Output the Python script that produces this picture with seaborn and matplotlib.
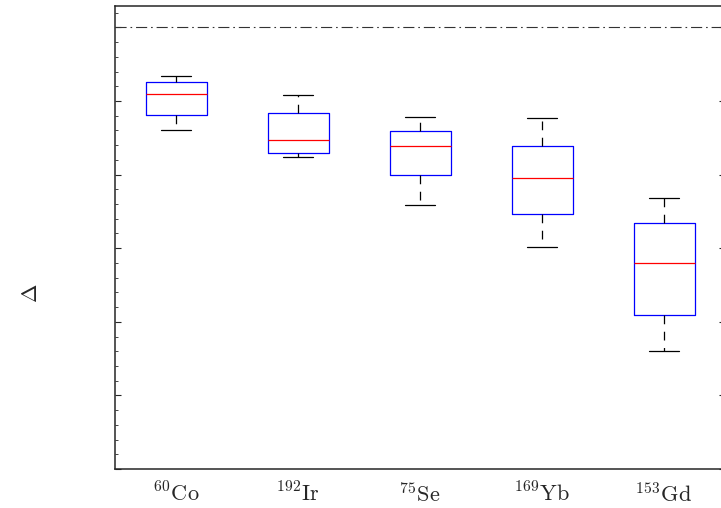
import pandas as pd
import matplotlib
matplotlib.use('Agg')
import matplotlib.pyplot as plt
import seaborn as sns
from matplotlib.ticker import MultipleLocator, NullFormatter

#Box statistics (min, q1, median, q3, max)
sources = ['Co', 'Ir', 'Se', 'Yb', 'Gd']
mass_numbers = ['60', '192', '75', '169', '153']
whisker_low = [0.9305, 0.9118, 0.8794, 0.8505, 0.7802]
q1 = [0.9405, 0.9147, 0.8996, 0.8731, 0.8048]
median = [0.9545, 0.9233, 0.9193, 0.8978, 0.8401]
q3 = [0.9630, 0.9421, 0.9298, 0.9193, 0.8674]
whisker_high = [0.9670, 0.9543, 0.9393, 0.9383, 0.8844]
reference_level = 1.0

tick_labels = [r'$^{%s}\mathrm{%s}$' % (m, s) for m, s in zip(mass_numbers, sources)]

#five points per source -> quartiles land exactly on the read values
rows = []
for lab, a, b, c, d, e in zip(tick_labels, whisker_low, q1, median, q3, whisker_high):
    for v in (a, b, c, d, e):
        rows.append({'source': lab, 'delta': v})
df = pd.DataFrame(rows)

sns.set_style('ticks')
plt.rcParams['mathtext.fontset'] = 'cm'
plt.rcParams['font.family'] = ['DejaVu Serif']

fig = plt.figure(figsize=(7.21, 5.08), dpi=100)
ax = fig.add_axes([115 / 721, 39 / 508, 610 / 721, 463 / 508])

sns.boxplot(data=df, x='source', y='delta', order=tick_labels, ax=ax,
            whis=(0, 100), width=0.5, fill=False, linewidth=0.9,
            boxprops={'color': 'blue'},
            medianprops={'color': 'red'},
            whiskerprops={'color': 'black', 'linestyle': (0, (7, 6))},
            capprops={'color': 'black'},
            showfliers=False)

ax.axhline(reference_level, color='#333333', linestyle=(0, (10, 3.5, 1.5, 3.5)), linewidth=0.8)

ax.set_xlim(-0.5, 4.5)
ax.set_ylim(0.70, 1.0145)
ax.yaxis.set_major_locator(MultipleLocator(0.05))
ax.yaxis.set_minor_locator(MultipleLocator(0.01))
ax.yaxis.set_major_formatter(NullFormatter())
ax.tick_params(axis='y', which='both', direction='in', left=True, right=True)
ax.tick_params(axis='y', which='major', length=4, width=0.8)
ax.tick_params(axis='y', which='minor', length=2, width=0.6)
ax.tick_params(axis='x', length=0, labelsize=16, pad=10)

for side in ['left', 'right', 'top', 'bottom']:
    ax.spines[side].set_linewidth(1.1)
    ax.spines[side].set_visible(True)

ax.set_xlabel('')
ax.set_ylabel(r'$\Delta$', fontsize=16)
ax.yaxis.set_label_coords(-0.12, 0.38)

plt.savefig('out.png', dpi=100)
